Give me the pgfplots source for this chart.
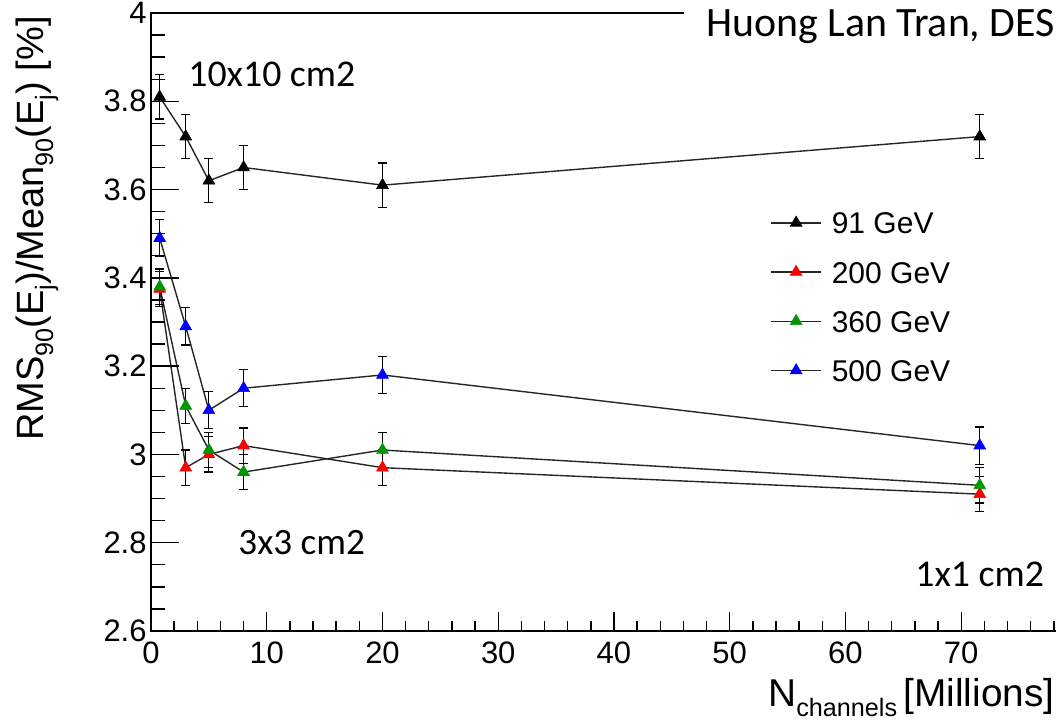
\documentclass[border=0pt]{standalone}
\usepackage{pgfplots}
\pgfplotsset{compat=1.18}
\usepackage{pgfplotstable}
\usepackage{fontspec}
\setmainfont{Liberation Sans}
\newfontfamily\calibri{Carlito}
\definecolor{rgreen}{RGB}{0,150,0}
\definecolor{rred}{RGB}{255,0,0}
\definecolor{rblue}{RGB}{0,0,255}

\pgfplotstableread{
x y ey
0.75 3.81 0.05
3 3.72 0.05
5 3.62 0.05
8 3.65 0.05
20 3.61 0.05
71.6 3.72 0.05
}\tA
\pgfplotstableread{
x y ey
0.75 3.375 0.04
3 2.97 0.04
5 3.00 0.04
8 3.02 0.04
20 2.97 0.04
71.6 2.91 0.04
}\tB
\pgfplotstableread{
x y ey
0.75 3.38 0.04
3 3.11 0.04
5 3.01 0.04
8 2.96 0.04
20 3.01 0.04
71.6 2.93 0.04
}\tC
\pgfplotstableread{
x y ey
0.75 3.49 0.042
3 3.29 0.042
5 3.10 0.042
8 3.15 0.042
20 3.18 0.042
71.6 3.02 0.042
}\tD

\newcommand\rsub[1]{\raisebox{-5pt}{\fontsize{12.6}{14}\selectfont #1}}

\pgfplotsset{ser/.style={black!85, line width=0.7pt, mark=triangle*, mark size=3.4pt,
  mark options={solid, fill=#1, draw=#1, line width=0.3pt},
  error bars/.cd, y dir=both, y explicit,
  error bar style={line width=0.6pt, black},
  error mark options={rotate=90, mark size=2.2pt, line width=0.6pt, black}}}

\begin{document}
\begin{tikzpicture}
\useasboundingbox (-75.5pt,-48.5pt) rectangle (452.5pt,315.5pt);
\clip (-75.5pt,-48.5pt) rectangle (452.5pt,315.5pt);
\begin{axis}[
  name=main, at={(0pt,0pt)}, anchor=south west,
  scale only axis, width=463pt, height=309pt,
  xmin=0, xmax=80, ymin=2.6, ymax=4,
  xtick={0,10,...,80}, xticklabels={0,10,20,30,40,50,60,70,}, minor x tick num=4,
  ytick={2.6,2.8,3,3.2,3.4,3.6,3.8,4}, minor y tick num=0,
  tick pos=left, tick align=inside,
  major tick length=9.5pt, minor tick length=5pt,
  tick style={line width=0.7pt, black},
  axis line style={line width=0.8pt},
  /pgf/number format/assume math mode=true,
  ticklabel style={font=\fontsize{15.5}{18}\selectfont},
  xticklabel style={inner sep=0pt, yshift=-5pt},
  yticklabel style={inner sep=0pt, xshift=-2pt},
  xlabel={N\rsub{channels}\,[Millions]},
  xlabel style={at={(axis description cs:0.9762,-0.12249)}, anchor=base east, inner sep=0pt, font=\fontsize{19.4}{22}\selectfont},
  ylabel={RMS\rsub{90}(E\rsub{j})/Mean\rsub{90}(E\rsub{j}) [\%]},
  ylabel style={at={(axis description cs:-0.11663,0.99515)}, anchor=base east, inner sep=0pt, font=\fontsize{19}{22}\selectfont},
  legend style={at={(axis description cs:0.6685,0.6789)}, anchor=north west, draw=none, fill=none,
    inner sep=0pt, row sep=13.6pt, column sep=5pt, font=\fontsize{15}{18}\selectfont,
    nodes={inner sep=0pt, text height=11pt, text depth=0pt}},
  legend cell align=left,
  legend image code/.code={\draw[mark repeat=2,mark phase=2,#1] plot coordinates {(0pt,0pt) (12.5pt,0pt) (25pt,0pt)};},
]
\addplot[ser=black] table[x=x,y=y,y error=ey]{\tA};
\addlegendentry{91 GeV}
\addplot[ser=rred] table[x=x,y=y,y error=ey]{\tB};
\addlegendentry{200 GeV}
\addplot[ser=rgreen] table[x=x,y=y,y error=ey]{\tC};
\addlegendentry{360 GeV}
\addplot[ser=rblue] table[x=x,y=y,y error=ey]{\tD};
\addlegendentry{500 GeV}
\end{axis}
\begin{axis}[
  at={(0pt,0pt)}, anchor=south west,
  scale only axis, width=463pt, height=309pt,
  xmin=0, xmax=80, ymin=2.6, ymax=4,
  xtick=\empty,
  ytick={2.6,2.8,3,3.2,3.4,3.6,3.8,4}, minor y tick num=3,
  yticklabels={}, yticklabel style={text opacity=0},
  tick pos=left, tick align=inside,
  major tick length=14pt, minor tick length=7pt,
  tick style={line width=0.7pt, black},
  axis line style={line width=0.8pt},
]
\end{axis}
\node[anchor=base west, fill=white, inner xsep=11pt, inner ysep=5pt, font=\calibri\fontsize{20.9}{24}\selectfont] at (266.5pt,297.15pt) {Huong Lan Tran, DES};
\node[anchor=base west, inner sep=0pt, font=\calibri\fontsize{18.9}{22}\selectfont] at (18.5pt,272.15pt) {10x10 cm2};
\node[anchor=base west, inner sep=0pt, font=\calibri\fontsize{18.6}{22}\selectfont] at (43.5pt,38pt) {3x3 cm2};
\node[anchor=base west, inner sep=0pt, font=\calibri\fontsize{18.9}{22}\selectfont] at (382pt,22.15pt) {1x1 cm2};
\end{tikzpicture}
\end{document}
